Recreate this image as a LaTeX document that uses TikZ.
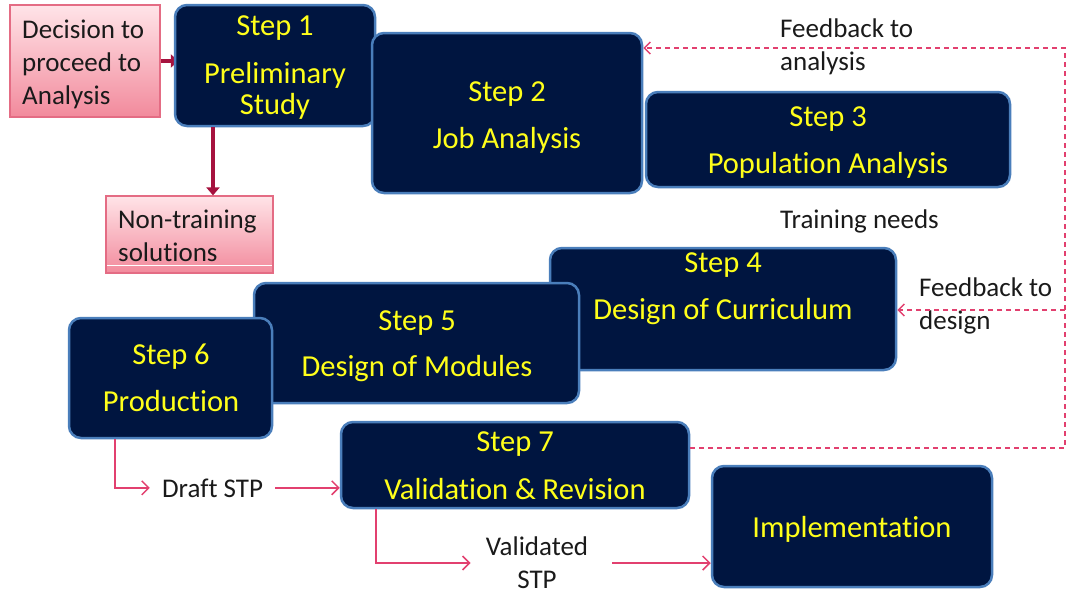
\documentclass[tikz,border=0pt]{standalone}
\usepackage{fontspec}
\setmainfont{Carlito}[Ligatures=NoCommon]
\usetikzlibrary{arrows.meta,calc,backgrounds}
\definecolor{navy}{HTML}{001540}
\definecolor{bblue}{HTML}{4A7EBB}
\definecolor{yel}{HTML}{FFFF1A}
\definecolor{maroonc}{HTML}{A6123E}
\definecolor{pinkl}{HTML}{E2406F}
\definecolor{pinkb}{HTML}{E46C84}
\definecolor{pinktop}{HTML}{FFE4E8}
\definecolor{pinkbot}{HTML}{F28A9C}
\definecolor{ink}{HTML}{1A1A1A}
\tikzset{
  stepbox/.style={draw=bblue, line width=2.5pt, fill=navy, rounded corners=12pt, inner sep=0pt},
  pinkbox/.style={draw=pinkb, line width=1.2pt, top color=pinktop, bottom color=pinkbot, inner sep=0pt},
  ytxt/.style={text=yel, font=\fontsize{30.5}{36}\selectfont, inner sep=0pt, anchor=base},
  btxt/.style={text=ink, font=\fontsize{27}{33}\selectfont, inner sep=0pt, align=left},
  flow/.style={draw=pinkl, line width=1.5pt, -{Straight Barb[length=7pt,width=14pt]}},
  fb/.style={draw=pinkl, line width=1.5pt, dash pattern=on 5pt off 4pt, -{Straight Barb[length=6pt,width=12pt]}},
  heavy/.style={draw=maroonc, line width=4.5pt, -{Triangle[length=8pt,width=13pt]}}
}
\begin{document}
\begin{tikzpicture}[x=1pt,y=-1pt]
\useasboundingbox (0,0) rectangle (1080,595);
% boxes
\node[pinkbox, minimum width=150pt, minimum height=112pt] (dec) at (85,61) {};
\node[stepbox, minimum width=200pt, minimum height=121pt] (s1) at (275,65.5) {};
\node[stepbox, minimum width=270pt, minimum height=160pt] (s2) at (507,113) {};
\node[stepbox, minimum width=364pt, minimum height=95pt] (s3) at (828,139.5) {};
\node[stepbox, minimum width=346pt, minimum height=122pt] (s4) at (723,309) {};
\node[stepbox, minimum width=325pt, minimum height=120pt] (s5) at (416.5,343) {};
\node[stepbox, minimum width=203pt, minimum height=120pt] (s6) at (170.5,378) {};
\node[stepbox, minimum width=348pt, minimum height=86pt] (s7) at (515,465) {};
\node[stepbox, minimum width=280pt, minimum height=121pt] (impl) at (852,526.5) {};
\node[pinkbox, minimum width=167pt, minimum height=77pt] (nt) at (189.5,234.5) {};
\draw[white, line width=1.5pt] ([xshift=2pt,yshift=8pt]nt.south west) -- ([xshift=-2pt,yshift=8pt]nt.south east);
% yellow texts
\node[ytxt] (t1a) at (275,35) {Step 1};
\node[ytxt, anchor=center, align=center, font=\fontsize{30.5}{31}\selectfont] (t1b) at (275,91) {Preliminary\\Study};
\node[ytxt] (t2a) at (507,101) {Step 2};
\node[ytxt] (t2b) at (507,148) {Job Analysis};
\node[ytxt] (t3a) at (828,126) {Step 3};
\node[ytxt] (t3b) at (828,173) {Population Analysis};
\node[ytxt] (t4a) at (723,272) {Step 4};
\node[ytxt] (t4b) at (723,319) {Design of Curriculum};
\node[ytxt] (t5a) at (417,330) {Step 5};
\node[ytxt] (t5b) at (417,376) {Design of Modules};
\node[ytxt] (t6a) at (171,364) {Step 6};
\node[ytxt] (t6b) at (171,411) {Production};
\node[ytxt] (t7a) at (515,451) {Step 7};
\node[ytxt] (t7b) at (515,499) {Validation \& Revision};
\node[ytxt] (t8) at (852,537) {Implementation};
% black texts
\node[btxt, anchor=west] (dect) at (22,64) {Decision to\\proceed to\\Analysis};
\node[btxt, anchor=west] (ntt) at (118,236) {Non-training\\solutions};
\node[btxt, anchor=west] (fba) at (780,47) {Feedback to\\analysis};
\node[btxt, anchor=base west] (tn) at (780,228) {Training needs};
\node[btxt, anchor=west] (fbd) at (919,306) {Feedback to\\design};
\node[btxt, anchor=base, inner xsep=12pt] (draft) at (212.5,497) {Draft STP};
\node[btxt, align=center, inner xsep=15pt] (val) at (537,563) {Validated\\STP};
% connectors
\begin{scope}[on background layer]
\draw[heavy] (dec.east) -- ([xshift=5pt]dec.east -| s1.west);
\end{scope}
\draw[heavy] ([xshift=-62pt]s1.south) -- ([xshift=-62pt]s1.south |- nt.north);
\coordinate (ctop) at (1065,48);
\coordinate (cmid) at (1065,310);
\draw[fb] ([yshift=17pt]s7.east) -| (ctop) -- (ctop -| s2.east);
\draw[fb] (cmid) -- (cmid -| s4.east);
\draw[flow] ([xshift=-55.5pt]s6.south) |- (draft.west);
\draw[flow] (draft.east) -- (draft.east -| s7.west);
\draw[flow] ([xshift=-139pt]s7.south) |- (val.west);
\draw[flow, shorten <=9pt] (val.east) -- (val.east -| impl.west);
\end{tikzpicture}
\end{document}
